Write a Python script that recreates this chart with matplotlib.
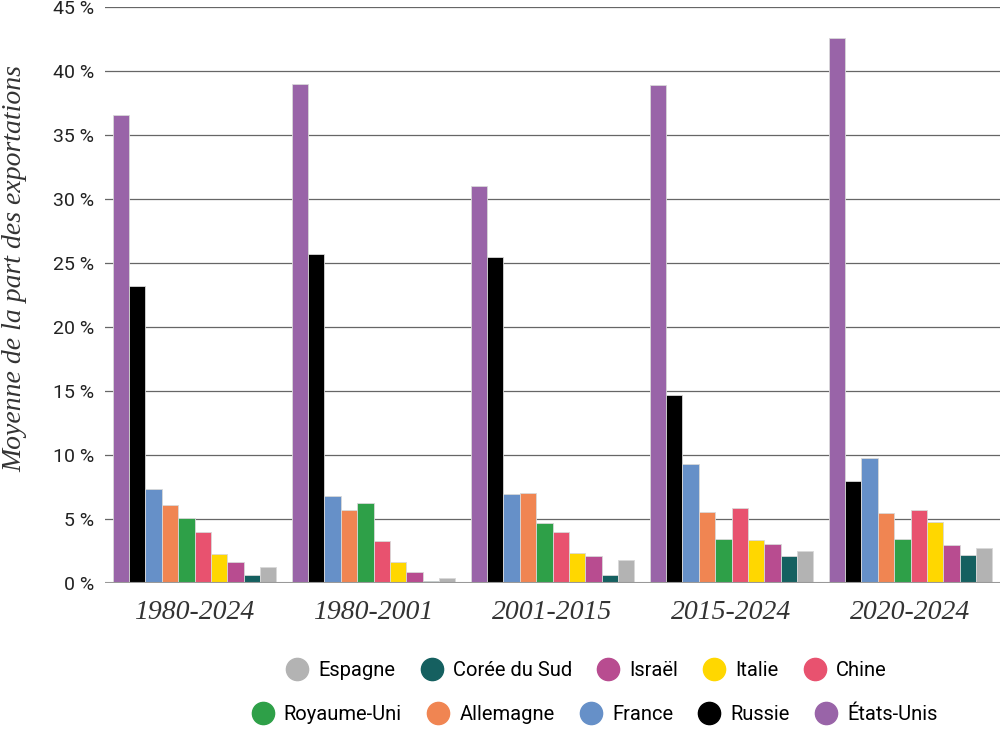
import matplotlib.pyplot as plt
from matplotlib.lines import Line2D
import numpy as np

# periods on the x axis
periods = ['1980-2024', '1980-2001', '2001-2015', '2015-2024', '2020-2024']

# countries in bar order (left to right inside a group)
countries = ['États-Unis', 'Russie', 'France', 'Allemagne', 'Royaume-Uni',
             'Chine', 'Italie', 'Israël', 'Corée du Sud', 'Espagne']
colors = ['#9964a8', '#000000', '#6690c8', '#f08552', '#2ea048',
          '#e8526f', '#ffd700', '#b84c90', '#156060', '#b3b3b3']

# average share of exports (%), one list per country, one value per period
etats_unis = [36.6, 39.0, 31.0, 38.9, 42.6]
russie = [23.2, 25.7, 25.5, 14.7, 8.0]
france = [7.4, 6.8, 7.0, 9.3, 9.8]
allemagne = [6.1, 5.7, 7.05, 5.55, 5.5]
royaume_uni = [5.1, 6.3, 4.7, 3.5, 3.5]
chine = [4.0, 3.3, 4.0, 5.9, 5.7]
italie = [2.3, 1.7, 2.4, 3.4, 4.8]
israel = [1.7, 0.9, 2.15, 3.05, 3.0]
coree = [0.7, 0.17, 0.65, 2.15, 2.25]
espagne = [1.25, 0.45, 1.8, 2.5, 2.8]

values = [etats_unis, russie, france, allemagne, royaume_uni,
          chine, italie, israel, coree, espagne]

fig = plt.figure(figsize=(10, 7.31), dpi=100)
ax = fig.add_axes([0.105, 0.2018, 0.895, 0.7886])

x = np.arange(len(periods))
n = len(countries)
group_w = 0.916
w = group_w / n
for i, (vals, c) in enumerate(zip(values, colors)):
    ax.bar(x - group_w / 2 + w * (i + 0.5), vals, width=w, color=c,
           edgecolor='#d8d8d8', linewidth=0.6, zorder=3)

ax.set_xlim(-0.5, len(periods) - 0.5)
ax.set_ylim(0, 45)
ax.set_yticks(range(0, 46, 5))
ax.set_yticklabels(['%d %%' % v for v in range(0, 46, 5)],
                   fontsize=14, family='Roboto', color='#222222')
ax.set_xticks(x)
ax.set_xticklabels(periods, fontsize=20, family='Liberation Serif',
                   style='italic', color='#333333')
ax.tick_params(axis='both', length=0)
ax.tick_params(axis='y', pad=8)
ax.tick_params(axis='x', pad=12)
ax.grid(axis='y', color='#666666', linewidth=0.9, zorder=0)
for s in ax.spines.values():
    s.set_visible(False)
ax.axhline(0, color='#999999', linewidth=1.5, zorder=4)

ax.set_ylabel('Moyenne de la part des exportations', fontsize=20,
              family='Liberation Serif', style='italic', color='#333333')
ax.yaxis.set_label_coords(-0.087, 0.547)

def handles(names):
    return [Line2D([], [], marker='o', linestyle='none', markersize=16,
                   markerfacecolor=colors[countries.index(nm)],
                   markeredgecolor=colors[countries.index(nm)], label=nm)
            for nm in names]

row1 = ['Espagne', 'Corée du Sud', 'Israël', 'Italie', 'Chine']
row2 = ['Royaume-Uni', 'Allemagne', 'France', 'Russie', 'États-Unis']
leg_kw = dict(ncol=5, frameon=False, handletextpad=0.05, columnspacing=0.8,
              prop={'family': 'Roboto', 'size': 14.5}, borderaxespad=0)
leg1 = fig.legend(handles=handles(row1), loc='center',
                  bbox_to_anchor=(0.582, 0.083), **leg_kw)
leg2 = fig.legend(handles=handles(row2), loc='center',
                  bbox_to_anchor=(0.590, 0.022), **leg_kw)

fig.savefig('out.png', dpi=100)
